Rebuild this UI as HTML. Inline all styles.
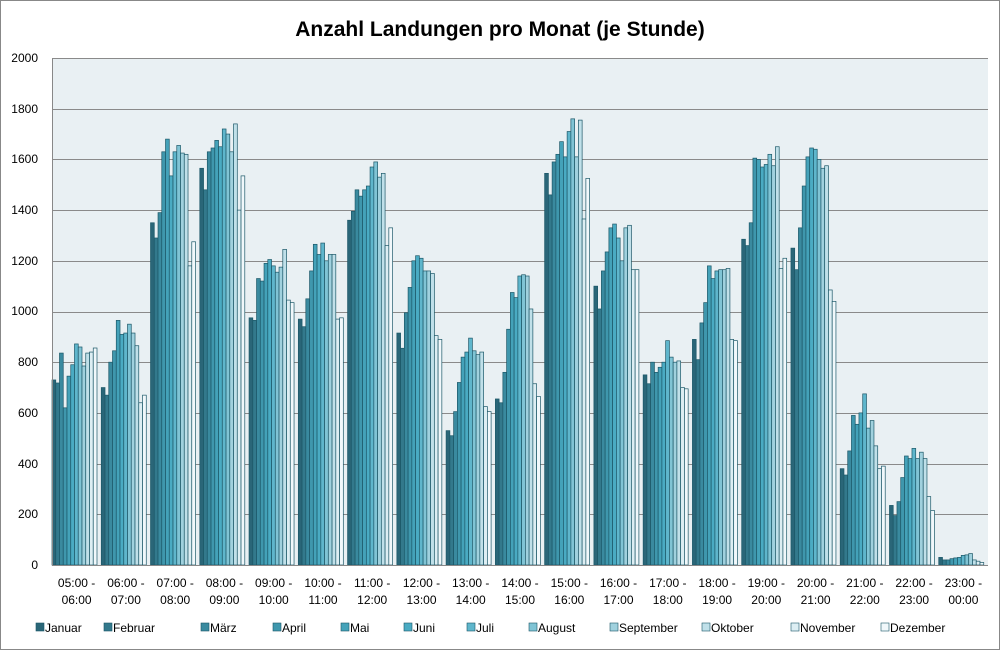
<!DOCTYPE html>
<html><head><meta charset="utf-8"><style>
body{margin:0;background:#fff}
svg{display:block;font-family:"Liberation Sans",sans-serif}
</style></head><body>
<svg id="s" width="1000" height="650" xmlns="http://www.w3.org/2000/svg">
<rect x="0.5" y="0.5" width="999" height="649" fill="#fff" stroke="#888"/>
<text x="500" y="36" text-anchor="middle" font-size="21" font-weight="bold" fill="#000">Anzahl Landungen pro Monat (je Stunde)</text>
<rect x="52" y="58" width="936" height="507" fill="#e9f0f3"/>
<g id="grid" stroke="#8a8a8a" stroke-width="1"></g>
<g id="bars"></g>
<line x1="52" y1="565.5" x2="988" y2="565.5" stroke="#888"/>
<line x1="52.5" y1="58" x2="52.5" y2="565" stroke="#888"/>
<g font-size="12" text-anchor="end" fill="#000">
<text x="38" y="569">0</text><text x="38" y="518">200</text><text x="38" y="468">400</text><text x="38" y="417">600</text><text x="38" y="366">800</text><text x="38" y="315">1000</text><text x="38" y="265">1200</text><text x="38" y="214">1400</text><text x="38" y="163">1600</text><text x="38" y="113">1800</text><text x="38" y="62">2000</text>
</g>
<g font-size="12" text-anchor="middle" fill="#000" id="xl">
<text x="76.6" y="587">05:00 -</text><text x="76.6" y="604">06:00</text>
<text x="125.9" y="587">06:00 -</text><text x="125.9" y="604">07:00</text>
<text x="175.2" y="587">07:00 -</text><text x="175.2" y="604">08:00</text>
<text x="224.4" y="587">08:00 -</text><text x="224.4" y="604">09:00</text>
<text x="273.7" y="587">09:00 -</text><text x="273.7" y="604">10:00</text>
<text x="323" y="587">10:00 -</text><text x="323" y="604">11:00</text>
<text x="372.2" y="587">11:00 -</text><text x="372.2" y="604">12:00</text>
<text x="421.5" y="587">12:00 -</text><text x="421.5" y="604">13:00</text>
<text x="470.7" y="587">13:00 -</text><text x="470.7" y="604">14:00</text>
<text x="520" y="587">14:00 -</text><text x="520" y="604">15:00</text>
<text x="569.3" y="587">15:00 -</text><text x="569.3" y="604">16:00</text>
<text x="618.5" y="587">16:00 -</text><text x="618.5" y="604">17:00</text>
<text x="667.8" y="587">17:00 -</text><text x="667.8" y="604">18:00</text>
<text x="717.1" y="587">18:00 -</text><text x="717.1" y="604">19:00</text>
<text x="766.3" y="587">19:00 -</text><text x="766.3" y="604">20:00</text>
<text x="815.6" y="587">20:00 -</text><text x="815.6" y="604">21:00</text>
<text x="864.8" y="587">21:00 -</text><text x="864.8" y="604">22:00</text>
<text x="914.1" y="587">22:00 -</text><text x="914.1" y="604">23:00</text>
<text x="963.4" y="587">23:00 -</text><text x="963.4" y="604">00:00</text>
</g>
<g id="leg" font-size="12" fill="#000">
<text x="45" y="632">Januar</text><text x="113" y="632">Februar</text><text x="210" y="632">März</text><text x="282" y="632">April</text><text x="350" y="632">Mai</text><text x="413" y="632">Juni</text><text x="476" y="632">Juli</text><text x="538" y="632">August</text><text x="619" y="632">September</text><text x="711" y="632">Oktober</text><text x="800" y="632">November</text><text x="890" y="632">Dezember</text>
</g>
</svg>
<script>
var cols=["#2a6678","#33798c","#3a8a9f","#3f97ad","#44a2b9","#4aabc3","#5fb6cc","#80c4d5","#a0d1de","#c0e0e9","#ddeef3","#f1f8fb"];
var D=[[730,718,836,620,745,790,872,860,785,836,840,856],
[700,670,800,845,965,910,915,950,915,865,640,670],
[1350,1290,1390,1630,1680,1535,1630,1655,1625,1620,1180,1275],
[1565,1480,1630,1645,1675,1650,1720,1700,1630,1740,1400,1535],
[975,965,1130,1120,1190,1205,1180,1155,1175,1245,1045,1035],
[970,940,1050,1160,1265,1225,1270,1200,1225,1225,970,975],
[1360,1395,1480,1455,1480,1495,1570,1590,1530,1545,1260,1330],
[915,855,995,1095,1200,1220,1210,1160,1160,1150,905,890],
[530,510,605,720,820,840,895,845,830,840,625,605],
[655,640,760,930,1075,1055,1140,1145,1140,1010,715,665],
[1545,1460,1590,1620,1670,1610,1710,1760,1610,1755,1365,1525],
[1100,1010,1160,1235,1330,1345,1290,1200,1330,1340,1165,1165],
[750,715,800,760,780,800,885,820,800,805,700,695],
[890,810,955,1035,1180,1130,1160,1165,1165,1170,890,885],
[1285,1260,1350,1605,1600,1570,1580,1620,1575,1650,1170,1210],
[1250,1165,1330,1495,1610,1645,1640,1600,1565,1575,1085,1040],
[380,355,450,590,555,600,675,540,570,470,380,390],
[235,195,250,345,430,420,460,420,445,420,270,215],
[30,20,20,25,28,30,38,40,45,20,15,10]];
var ns="http://www.w3.org/2000/svg",g=document.getElementById("grid"),b=document.getElementById("bars"),l=document.getElementById("leg");
function el(t,a,p){var e=document.createElementNS(ns,t);for(var k in a)e.setAttribute(k,a[k]);p.appendChild(e);return e;}
for(var i=1;i<=10;i++){var y=565-i*50.7;el("line",{x1:52,x2:988,y1:Math.round(y)+0.5,y2:Math.round(y)+0.5},g);}
var gw=936/19,bw=3.75;
D.forEach(function(r,gi){r.forEach(function(v,m){var x=52+gi*gw+m*bw,h=v*0.2535;
el("rect",{x:x,y:565-h,width:bw,height:h,fill:cols[m],stroke:"#1c5868","stroke-width":0.7},b);});});
var lx=[36,104,201,273,341,404,467,529,610,702,791,881];
lx.forEach(function(x,m){el("rect",{x:x,y:623,width:8,height:8,fill:cols[m],stroke:"#1c5868","stroke-width":0.6},l);});
</script>
</body></html>
